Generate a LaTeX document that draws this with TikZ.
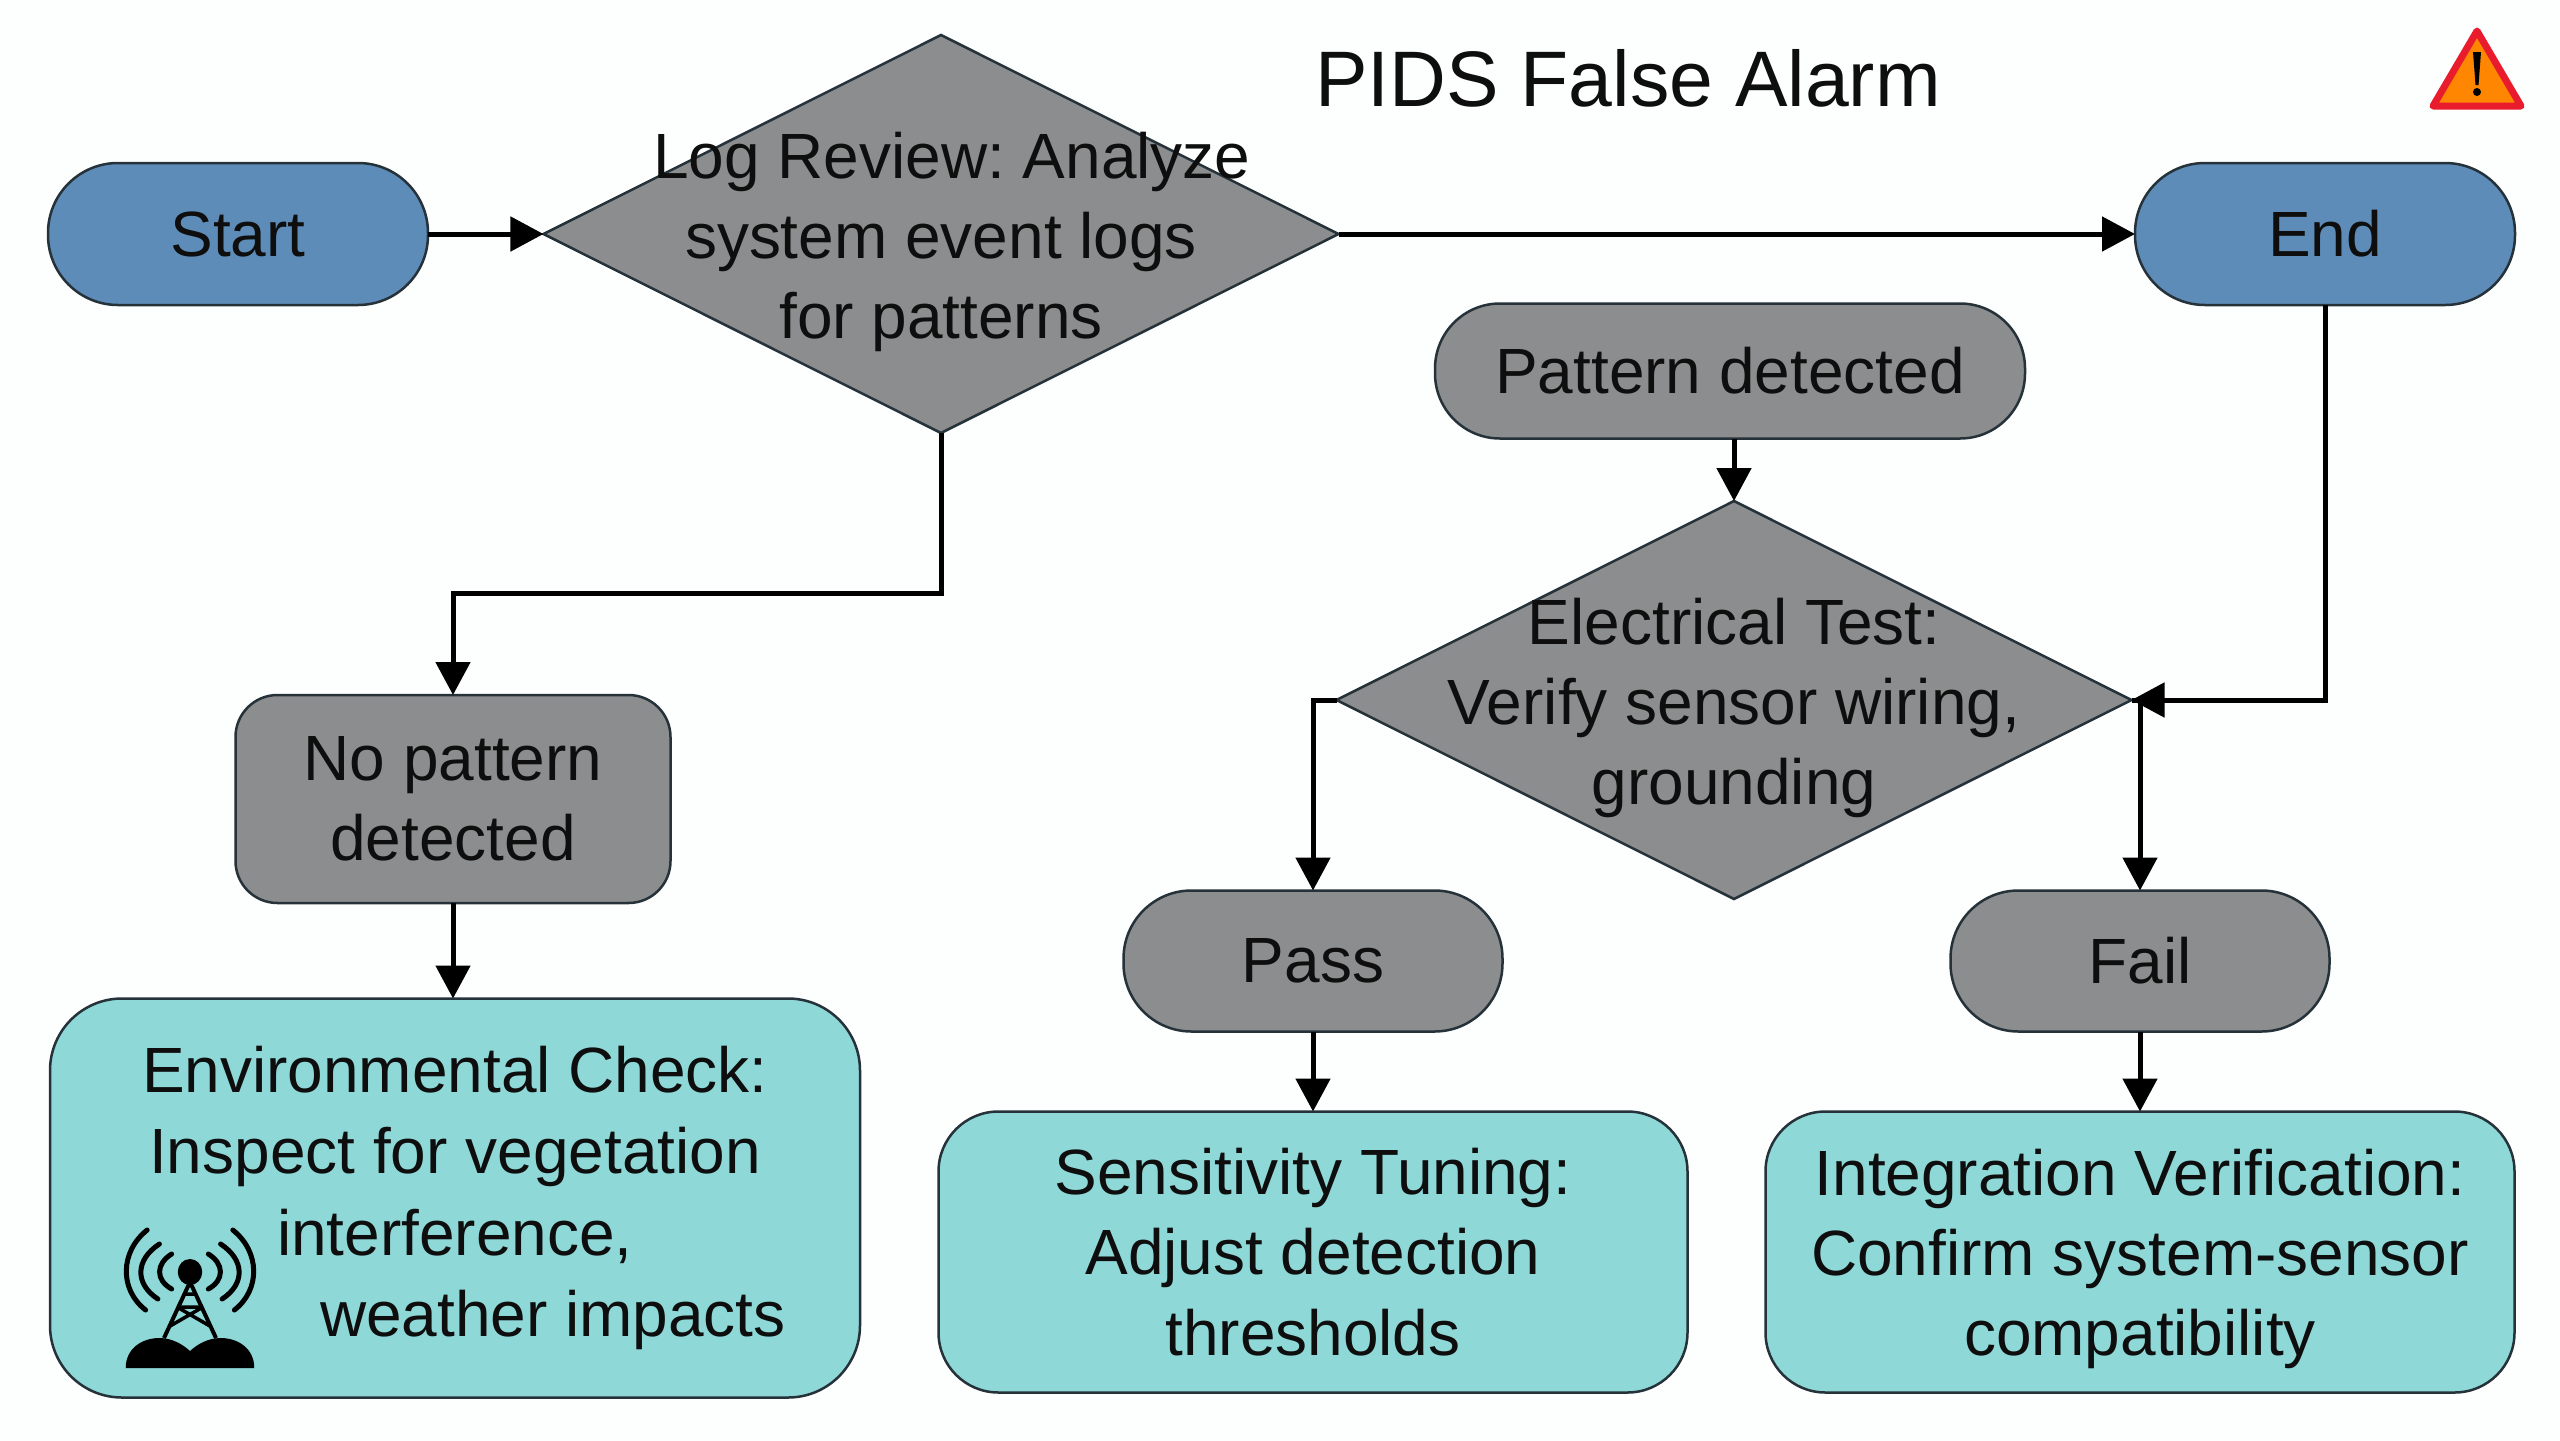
\documentclass[tikz,border=0pt]{standalone}
\usepackage{fontspec}
\setmainfont{Liberation Sans}
\usepackage{tikz}
\usetikzlibrary{shapes.geometric,arrows.meta}
\frenchspacing
\definecolor{pagebg}{RGB}{253,254,254}
\definecolor{outline}{RGB}{38,50,58}
\definecolor{inktext}{RGB}{14,14,14}
\definecolor{bluefill}{RGB}{94,140,184}
\definecolor{grayfill}{RGB}{140,141,142}
\definecolor{tealfill}{RGB}{143,216,216}
\definecolor{alarmred}{RGB}{232,28,44}
\definecolor{alarmorange}{RGB}{255,134,0}
\newcommand{\bodyfont}{\fontsize{18.2}{22.8}\selectfont}
\tikzstyle{box} = [rectangle, draw=outline, line width=0.025cm, text=inktext, font=\bodyfont, align=center, inner sep=0pt, outer sep=0pt]
\tikzstyle{terminal} = [box, rounded corners=0.70cm, minimum width=3.80cm, minimum height=1.42cm, fill=bluefill]
\tikzstyle{outcome} = [box, rounded corners=0.68cm, minimum width=3.79cm, minimum height=1.41cm, fill=grayfill]
\tikzstyle{decision} = [diamond, draw=outline, line width=0.025cm, inner sep=0pt, outer sep=0pt, minimum width=7.95cm, minimum height=3.98cm, fill=grayfill]
\tikzstyle{decisiontext} = [text=inktext, font=\bodyfont, align=center, inner sep=0pt, yshift=-0.08cm]
\tikzstyle{action} = [box, rounded corners=0.60cm, minimum width=7.49cm, minimum height=2.81cm, fill=tealfill]
\tikzstyle{arrow} = [line width=0.05cm, -{Triangle[length=0.33cm,width=0.34cm]}]

\begin{document}
\begin{tikzpicture}
\useasboundingbox (0,0) rectangle (25.6,-14.4);
\fill[pagebg] (0,0) rectangle (25.6,-14.4);
\node (title) [text=inktext, font=\fontsize{22.4}{27}\selectfont] at (16.28,-0.78) {PIDS False Alarm};
\node (start) [terminal] at (2.38,-2.34) {Start};
\node (review) [decision, right of=start, xshift=6.03cm, label={[decisiontext]center:{\hspace*{0.22cm}Log Review: Analyze\\system event logs\\for patterns}}] {};
\node (stop) [terminal, right of=review, xshift=12.84cm] {End};
\node (pattern) [outcome, below of=review, xshift=7.89cm, yshift=-0.37cm, minimum width=5.90cm, minimum height=1.35cm, rounded corners=0.65cm] {Pattern detected};
\node (electrical) [decision, below of=pattern, xshift=0.04cm, yshift=-2.29cm, label={[decisiontext]center:{Electrical Test:\\Verify sensor wiring,\\grounding}}] {};
\node (nopattern) [box, below of=review, xshift=-4.88cm, yshift=-4.65cm, minimum width=4.35cm, minimum height=2.08cm, rounded corners=0.42cm, fill=grayfill] {No pattern\\detected};
\node (environment) [action, below of=nopattern, xshift=0.02cm, yshift=-2.99cm, minimum width=8.10cm, minimum height=3.99cm, rounded corners=0.72cm, font=\fontsize{18.2}{23.2}\selectfont] {Environmental Check:\\Inspect for vegetation\\interference,\\\hspace*{1.96cm}weather impacts};
\node (pass) [outcome, below of=electrical, xshift=-4.21cm, yshift=-1.61cm] {Pass};
\node (fail) [outcome, below of=electrical, xshift=4.06cm, yshift=-1.61cm] {Fail};
\node (sensitivity) [action, below of=pass, yshift=-1.91cm] {Sensitivity Tuning:\\Adjust detection\\thresholds};
\node (integration) [action, below of=fail, yshift=-1.91cm] {Integration Verification:\\Confirm system-sensor\\\raisebox{0pt}[\height][0pt]{compatibility}};

\draw[arrow] (start) -- (review);
\draw[arrow] (review) -- (stop);
\draw[arrow] (review.south) -- ++(0,-1.60) -| (nopattern.north);
\draw[arrow] (nopattern.south) -- (nopattern.south |- environment.north);
\draw[arrow] (electrical.north |- pattern.south) -- (electrical.north);
\draw[arrow] (stop.south) |- (electrical.east);
\draw[arrow] (electrical.west) -| (pass.north);
\draw[arrow] (electrical.east) -| (fail.north);
\draw[arrow] (pass) -- (sensitivity);
\draw[arrow] (fail) -- (integration);

% warning sign
\draw[line width=0.07cm, line join=round, draw=alarmred, fill=alarmorange] (24.77,-0.31) -- (24.33,-1.06) -- (25.21,-1.06) -- cycle;
\fill[black] (24.73,-0.52) -- (24.81,-0.52) -- (24.785,-0.85) -- (24.755,-0.85) -- cycle;
\fill[black] (24.77,-0.92) circle (0.04);

% tower icon
\begin{scope}[shift={(1.90,-12.72)}, xscale=1.53]
\fill[black] (0,0) ellipse (0.08 and 0.13);
\draw[black, line width=0.04cm] (0,-0.10) -- (-0.17,-0.66) (0,-0.10) -- (0.17,-0.66);
\draw[black, line width=0.035cm] (-0.04,-0.22) -- (0.04,-0.22) (-0.085,-0.35) -- (0.085,-0.35) (-0.085,-0.35) -- (0.13,-0.54) (0.085,-0.35) -- (-0.13,-0.54);
\fill[black] (-0.42,-0.96) .. controls (-0.42,-0.76) and (-0.31,-0.66) .. (-0.20,-0.66) .. controls (-0.12,-0.66) and (-0.05,-0.72) .. (0,-0.79) .. controls (0.05,-0.72) and (0.12,-0.66) .. (0.20,-0.66) .. controls (0.31,-0.66) and (0.42,-0.76) .. (0.42,-0.96) -- cycle;
\foreach \s in {-1,1}
  \draw[black, xscale=\s, line width=0.05cm, line cap=round] (0.12,0.18) .. controls (0.225,0.08) and (0.225,-0.08) .. (0.12,-0.17) (0.20,0.28) .. controls (0.36,0.12) and (0.36,-0.12) .. (0.21,-0.27) (0.28,0.42) .. controls (0.46,0.20) and (0.46,-0.18) .. (0.29,-0.38);
\end{scope}
\end{tikzpicture}
\end{document}
